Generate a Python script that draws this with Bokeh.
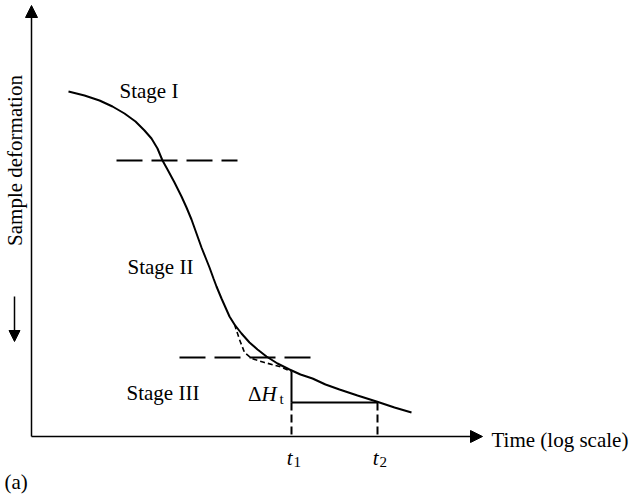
import math
from bokeh.plotting import figure
from bokeh.models import Range1d, Label, Arrow, NormalHead
from bokeh.embed import file_html
from bokeh.resources import INLINE

# ---- schematic data (drawing units = reference pixels) ----
curve_x = [69, 85, 100, 113, 125, 136, 145, 152, 158, 163, 168, 175, 182, 187, 192, 197, 202, 206, 210,
           214, 217, 222, 226, 230, 235, 242, 250, 258, 267, 278, 290, 301, 313, 326, 340, 358, 377, 395, 412]
curve_y = [92, 96, 101, 107, 114, 122, 131, 139, 149, 161, 170, 183, 197, 208, 220, 234, 248, 258, 268,
           279, 287, 299, 308, 317, 325, 334, 343, 350, 357, 364, 370, 375, 379, 385, 390, 396, 402, 408, 413]
tangent_x = [235, 240, 245, 252, 265, 280, 292]
tangent_y = [325, 340, 353, 359, 363, 367, 372]
boundary_y = [161, 358]
boundary_x0 = [117, 180]
boundary_x1 = [238, 311]
t_x = [292, 378]
t_names = ["1", "2"]
dH_top = 372
dH_bottom = 403
origin_x, origin_y = 32, 437
yaxis_top = 6
xaxis_end = 483
stage_labels = ["Stage I", "Stage II", "Stage III"]
stage_x = [120, 128, 127]
stage_y = [91, 267, 393]

FONT = "Liberation Serif"
FS = "21px"

p = figure(width=631, height=497, output_backend="svg", toolbar_location=None,
           x_range=Range1d(1, 632), y_range=Range1d(498, 1),
           min_border=0, outline_line_color=None)
p.xaxis.visible = False
p.yaxis.visible = False
p.grid.visible = False
p.background_fill_color = "white"
p.border_fill_color = "white"

# axes with arrows
p.add_layout(Arrow(end=NormalHead(size=12, fill_color="black", line_color="black", line_width=1),
                   x_start=origin_x, y_start=origin_y, x_end=origin_x, y_end=yaxis_top,
                   line_width=1.5, line_color="black"))
p.add_layout(Arrow(end=NormalHead(size=12, fill_color="black", line_color="black", line_width=1),
                   x_start=origin_x, y_start=origin_y, x_end=xaxis_end, y_end=origin_y,
                   line_width=1.5, line_color="black"))
# down arrow by y label
p.add_layout(Arrow(end=NormalHead(size=11, fill_color="black", line_color="black", line_width=1),
                   x_start=15, y_start=297, x_end=15, y_end=342,
                   line_width=1.5, line_color="black"))

# main curve
p.line(curve_x, curve_y, line_color="black", line_width=2)
# tangent dashed
p.line(tangent_x, tangent_y, line_color="black", line_width=1.6, line_dash="5 3")
# stage boundaries
for y0, xa, xb in zip(boundary_y, boundary_x0, boundary_x1):
    p.line([xa, xb], [y0, y0], line_color="black", line_width=2, line_dash="26 9")

# Delta H triangle
p.line([t_x[0], t_x[0]], [dH_top, dH_bottom], line_color="black", line_width=2)
p.line([t_x[0], t_x[1]], [dH_bottom, dH_bottom], line_color="black", line_width=2)
for tx in t_x:
    p.line([tx, tx], [dH_bottom, origin_y], line_color="black", line_width=2, line_dash="8 4")

def lab(x, y, text, size=FS, style="normal", align="left", angle=0.0):
    p.add_layout(Label(x=x, y=y, text=text, text_font=FONT, text_font_size=size,
                       text_font_style=style, text_align=align, text_baseline="middle",
                       text_color="black", angle=angle))

for s, sx, sy in zip(stage_labels, stage_x, stage_y):
    lab(sx, sy, s)

lab(15, 161, "Sample deformation", align="center", angle=math.pi / 2)
lab(492, 440, "Time (log scale)")
lab(5, 482, "(a)")

# Delta H_t
lab(262, 394, "\u0394", align="right")
lab(262, 394, "H", style="italic")
lab(280, 399, "t", size="15px")

# t1, t2
for tx, nm in zip(t_x, t_names):
    lab(tx + 1, 458, "t", style="italic", align="right")
    lab(tx + 2, 462, nm, size="15px")

open("out.html", "w").write(file_html(p, INLINE))
